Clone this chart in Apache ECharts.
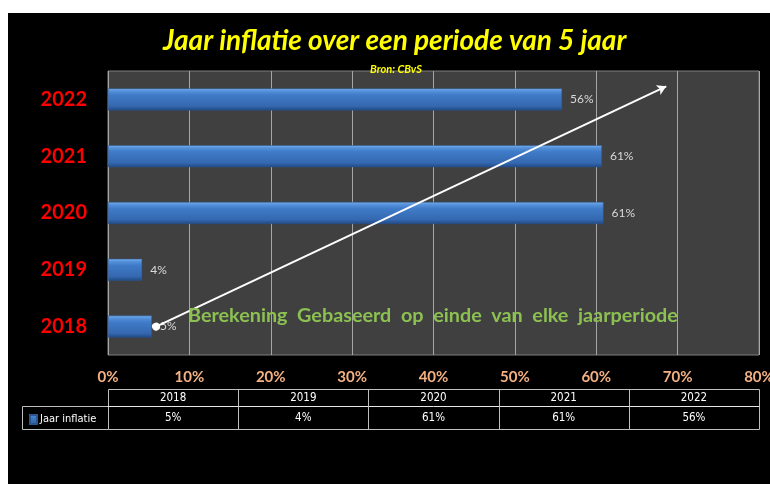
<!DOCTYPE html>
<html>
<head>
<meta charset="utf-8">
<script src="https://cdn.jsdelivr.net/npm/echarts@6/dist/echarts.min.js"></script>
<style>
  html, body { margin: 0; padding: 0; background: #fff; }
  #wrap { position: relative; width: 770px; height: 484px; background: #fff; }
  #chart { position: absolute; left: 8px; top: 13px; width: 762px; height: 471px; background: #000; }
</style>
</head>
<body>
<div id="wrap"><div id="chart"></div></div>
<script>
const years = ['2018', '2019', '2020', '2021', '2022']
const inflation = [5.4, 4.2, 60.9, 60.7, 55.8]
const xTicks = [0, 10, 20, 30, 40, 50, 60, 70, 80]
const seriesName = 'Jaar inflatie'
// arrow annotation: [x %, y in category steps]
const arrowStart = [5.9, 0]
const arrowEnd = [68.6, 4.23]
const noteText = 'Berekening  Gebaseerd  op  einde  van  elke  jaarperiode'

const chart = echarts.init(document.getElementById('chart'))

const pct = v => Math.round(v) + '%'

// data table under the axis
const buildTable = () => {
  const x0 = 100, x1 = 751, yTop = 376, yMid = 393, yBot = 416, legendLeft = 14
  const colW = (x1 - x0) / years.length
  const border = { stroke: '#bfbfbf', lineWidth: 1 }
  const font = '11.5px "DejaVu Sans Condensed", "Liberation Sans"'
  const els = []
  els.push({ type: 'rect', shape: { x: x0 + 0.5, y: yTop + 0.5, width: x1 - x0, height: yBot - yTop }, style: { fill: null, ...border } })
  els.push({ type: 'rect', shape: { x: legendLeft + 0.5, y: yMid + 0.5, width: x0 - legendLeft, height: yBot - yMid }, style: { fill: null, ...border } })
  els.push({ type: 'line', shape: { x1: x0, y1: yMid + 0.5, x2: x1, y2: yMid + 0.5 }, style: { stroke: '#e6e6e6', lineWidth: 1 } })
  years.forEach((y, i) => {
    const cx = x0 + colW * (i + 0.5)
    if (i > 0) {
      const lx = Math.round(x0 + colW * i) + 0.5
      els.push({ type: 'line', shape: { x1: lx, y1: yTop, x2: lx, y2: yBot }, style: { ...border } })
    }
    els.push({ type: 'text', x: cx, y: (yTop + yMid) / 2 + 1, style: { text: y, fill: '#fff', font, align: 'center', verticalAlign: 'middle' } })
    els.push({ type: 'text', x: cx, y: (yMid + yBot) / 2 + 1, style: { text: pct(inflation[i]), fill: '#fff', font, align: 'center', verticalAlign: 'middle' } })
  })
  return els
}

const option = {
  animation: false,
  title: [
    {
      text: 'Jaar inflatie over een periode van 5 jaar',
      left: 150,
      top: 9,
      textStyle: { color: '#ffff00', fontFamily: 'Lato', fontStyle: 'italic', fontWeight: 'bold', fontSize: 28 }
    },
    {
      text: 'Bron: CBvS',
      left: 357,
      top: 46,
      textStyle: { color: '#ffff00', fontFamily: 'Lato', fontStyle: 'italic', fontWeight: 'bold', fontSize: 11 }
    }
  ],
  legend: {
    data: [seriesName],
    left: 16,
    top: 396,
    icon: 'rect',
    itemWidth: 7,
    itemHeight: 9,
    itemGap: 4,
    textStyle: { color: '#fff', fontFamily: 'DejaVu Sans Condensed', fontSize: 11, padding: [0, 0, 0, -2] }
  },
  grid: {
    left: 100,
    top: 58,
    right: 11,
    bottom: 129,
    outerBoundsMode: 'none',
    show: true,
    backgroundColor: '#404040',
    borderColor: '#808080',
    borderWidth: 1
  },
  xAxis: [
    {
      type: 'value',
      min: xTicks[0],
      max: xTicks[xTicks.length - 1],
      interval: xTicks[1] - xTicks[0],
      axisLine: { show: false },
      axisTick: { show: false },
      splitLine: { lineStyle: { color: '#a6a6a6', width: 1 } },
      axisLabel: {
        margin: 15,
        formatter: '{value}%',
        color: '#f4b183',
        fontFamily: 'Lato',
        fontWeight: 'bold',
        fontSize: 15
      }
    },
    { type: 'value', min: 0, max: 80, show: false }
  ],
  yAxis: [
    {
      type: 'category',
      data: years,
      axisLine: { show: false },
      axisTick: { show: false },
      axisLabel: {
        margin: 21,
        color: '#ff0000',
        fontFamily: 'Lato',
        fontWeight: 'bold',
        fontSize: 20
      }
    },
    { type: 'value', min: -0.5, max: 4.5, show: false }
  ],
  series: [
    {
      name: seriesName,
      type: 'bar',
      data: inflation,
      barWidth: 22,
      itemStyle: {
        color: new echarts.graphic.LinearGradient(0, 0, 0, 1, [
          { offset: 0, color: '#7ab2ee' },
          { offset: 0.12, color: '#5592da' },
          { offset: 0.3, color: '#3f7bc8' },
          { offset: 0.8, color: '#3568b0' },
          { offset: 1, color: '#1f4a85' }
        ]),
        borderColor: '#2a5591',
        borderWidth: 0.5
      },
      label: {
        show: true,
        position: 'right',
        distance: 8,
        formatter: p => pct(p.value),
        color: '#d9d9d9',
        fontFamily: 'Lato',
        fontSize: 12
      }
    },
    {
      type: 'line',
      xAxisIndex: 1,
      yAxisIndex: 1,
      data: [],
      silent: true,
      markLine: {
        silent: true,
        symbol: ['circle', 'arrow'],
        symbolSize: [8, 9],
        label: { show: false },
        lineStyle: { color: '#ffffff', width: 2, type: 'solid' },
        data: [[{ coord: arrowStart }, { coord: arrowEnd }]]
      }
    }
  ],
  graphic: [
    {
      type: 'text',
      left: 180,
      top: 293,
      z: 10,
      style: { text: noteText, fill: '#8cc152', font: 'bold 19.8px Lato' }
    },
    ...buildTable()
  ]
}

chart.setOption(option)
</script>
</body>
</html>
